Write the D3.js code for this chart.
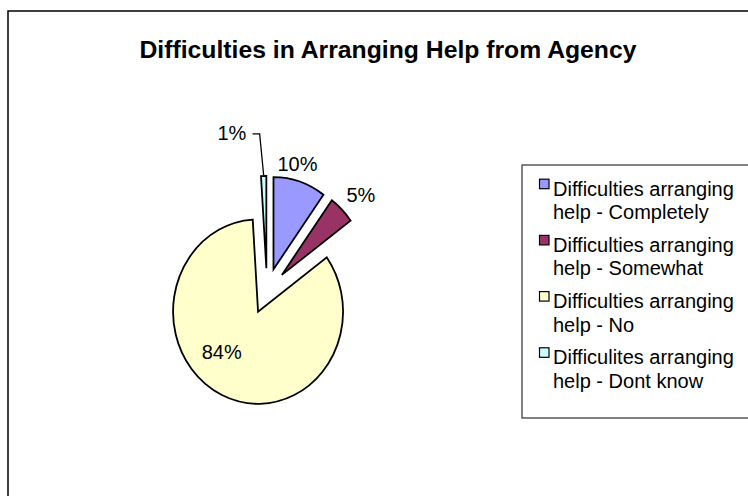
<!DOCTYPE html>
<html>
<head>
<meta charset="utf-8">
<script src="https://cdn.jsdelivr.net/npm/d3@7"></script>
<style>
  html, body { margin: 0; padding: 0; background: #fff; }
  svg { display: block; }
  text { font-family: "Liberation Sans", Arial, sans-serif; fill: #000; }
</style>
</head>
<body>
<svg id="chart" width="748" height="496"></svg>
<script>
// Chart data
const title = "Difficulties in Arranging Help from Agency";
const categories = [
  "Difficulties arranging help - Completely",
  "Difficulties arranging help - Somewhat",
  "Difficulties arranging help - No",
  "Difficulites arranging help - Dont know"
];
const legendLines = [
  ["Difficulties arranging", "help - Completely"],
  ["Difficulties arranging", "help - Somewhat"],
  ["Difficulties arranging", "help - No"],
  ["Difficulites arranging", "help - Dont know"]
];
const values = [10, 5, 84, 1];
const valueLabels = ["10%", "5%", "84%", "1%"];
const colors = ["#9999FF", "#993366", "#FFFFCC", "#CCFFFF"];

// Layout
const W = 748, H = 496;
const cx = 267, cy = 291;     // pie centre
const R = 85;                 // horizontal radius
const yStretch = 1.085;       // pie is drawn slightly taller than wide
const explode = 21;           // every slice is pulled out by this much
// label placement per slice: distance from centre and angle tweak (radians)
const labelPlace = [
  { r: 121, da: -0.06, leader: false },
  { r: 129, da: 0.03, leader: false },
  { r: 72, da: 0.24, leader: false },
  { r: 150, da: -0.205, leader: true }
];

const svg = d3.select("#chart");

// outer chart frame (runs past the right and bottom edges)
svg.append("rect")
  .attr("x", 8).attr("y", 11)
  .attr("width", W + 20).attr("height", H + 20)
  .attr("fill", "#fff").attr("stroke", "#000").attr("stroke-width", 1.5);

// title
svg.append("text")
  .attr("x", 388).attr("y", 58)
  .attr("text-anchor", "middle")
  .attr("textLength", 497)
  .attr("lengthAdjust", "spacingAndGlyphs")
  .style("font-size", "23.5px").style("font-weight", "bold")
  .text(title);

// pie
const pie = d3.pie().sort(null).value(d => d).startAngle(0).endAngle(2 * Math.PI);
const arcs = pie(values);
const arc = d3.arc().innerRadius(0).outerRadius(R);

const pieG = svg.append("g").attr("transform", `translate(${cx},${cy})`);

arcs.forEach((a, i) => {
  const mid = (a.startAngle + a.endAngle) / 2;
  const ox = explode * Math.sin(mid);
  const oy = -explode * Math.cos(mid) * yStretch;
  pieG.append("g")
    .attr("transform", `translate(${ox},${oy}) scale(1,${yStretch})`)
    .append("path")
    .attr("d", arc(a))
    .attr("fill", colors[i])
    .attr("stroke", "#000")
    .attr("stroke-width", 1.8)
    .attr("stroke-linejoin", "miter")
    .attr("vector-effect", "non-scaling-stroke");
});

// data labels
arcs.forEach((a, i) => {
  const p = labelPlace[i];
  const mid = (a.startAngle + a.endAngle) / 2 + p.da;
  const lx = p.r * Math.sin(mid);
  const ly = -p.r * Math.cos(mid) * yStretch;
  const t = pieG.append("text")
    .attr("x", lx).attr("y", ly + 7)
    .attr("text-anchor", "middle")
    .style("font-size", "20px")
    .text(valueLabels[i]);
  if (p.leader) {
    // leader line from label to the outer edge of the thin slice
    const sm = (a.startAngle + a.endAngle) / 2;
    const ex = explode * Math.sin(sm) + (R + 1) * Math.sin(sm);
    const ey = (-explode * Math.cos(sm) - (R + 1) * Math.cos(sm)) * yStretch;
    const bb = t.node().getBBox();
    const sx = bb.x + bb.width + 6;
    const sy = ly + 1;
    pieG.append("path")
      .attr("d", `M${sx},${sy} L${ex - 4},${sy} L${ex},${ey}`)
      .attr("fill", "none").attr("stroke", "#000").attr("stroke-width", 1.3);
  }
});

// legend
const legX = 522, legY = 165, legH = 253;
svg.append("rect")
  .attr("x", legX).attr("y", legY)
  .attr("width", W - legX + 20).attr("height", legH)
  .attr("fill", "#fff").attr("stroke", "#404040").attr("stroke-width", 1.3);

const entryGap = 56.2, lineGap = 23.5, firstBase = 195.7;
categories.forEach((c, i) => {
  const base = firstBase + i * entryGap;
  const g = svg.append("g").attr("class", "legend-item");
  g.append("rect")
    .attr("x", 539.5).attr("y", base - 16.5)
    .attr("width", 9.5).attr("height", 9.5)
    .attr("fill", colors[i]).attr("stroke", "#000").attr("stroke-width", 1.2);
  legendLines[i].forEach((line, j) => {
    g.append("text")
      .attr("x", 553).attr("y", base + j * lineGap)
      .style("font-size", "20px")
      .text(line);
  });
});
</script>
</body>
</html>
